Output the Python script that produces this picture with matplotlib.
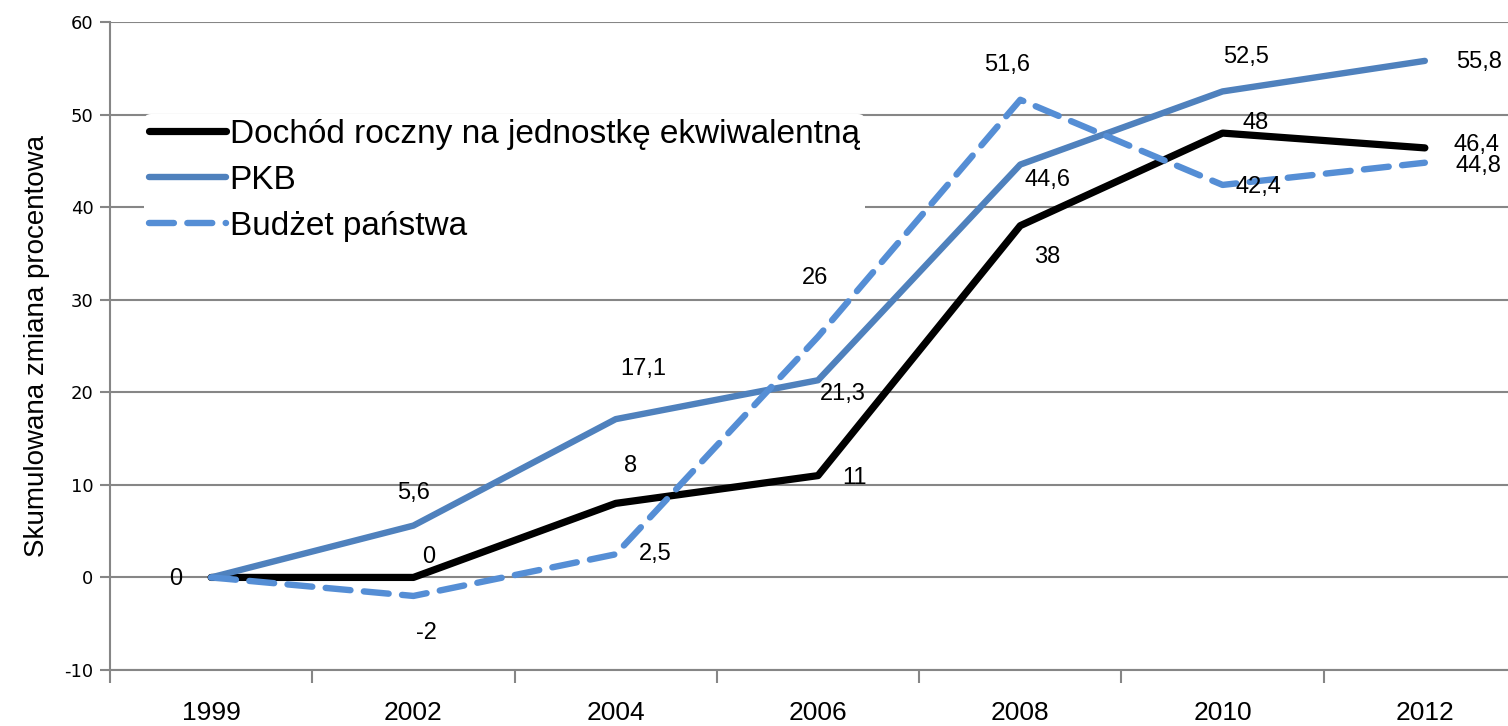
import matplotlib
matplotlib.use("Agg")
import matplotlib.pyplot as plt

years = ["1999", "2002", "2004", "2006", "2008", "2010", "2012"]
dochod = [0, 0, 8, 11, 38, 48, 46.4]
pkb = [0, 5.6, 17.1, 21.3, 44.6, 52.5, 55.8]
budzet = [0, -2, 2.5, 26, 51.6, 42.4, 44.8]
series_names = ["Dochód roczny na jednostkę ekwiwalentną", "PKB", "Budżet państwa"]
y_ticks = [-10, 0, 10, 20, 30, 40, 50, 60]
y_label = "Skumulowana zmiana procentowa"

narrow = "Liberation Sans"

fig = plt.figure(figsize=(15.08, 7.26), dpi=100)
ax = fig.add_axes([110/1508, 1-670/726, 1416/1508, 648/726])

x = list(range(len(years)))
c_black = "#000000"
c_pkb = "#4F81BD"
c_bud = "#558ED5"

ax.plot(x, dochod, color=c_black, lw=5.2, solid_capstyle="round", label=series_names[0], zorder=3)
ax.plot(x, pkb, color=c_pkb, lw=4.6, solid_capstyle="round", label=series_names[1], zorder=3)
ax.plot(x, budzet, color=c_bud, lw=4.6, dashes=(3.9, 2.1), dash_capstyle="round", label=series_names[2], zorder=3)

ax.set_xlim(-0.5, 6.5)
ax.set_ylim(-10, 60)
ax.set_yticks(y_ticks)
ax.set_yticklabels([str(v) for v in y_ticks], fontsize=13, fontfamily="DejaVu Sans")
ax.set_xticks(x)
ax.set_xticklabels(years, fontsize=19, fontfamily=narrow)
ax.tick_params(axis="x", length=0, pad=22)
ax.set_xticks([i - 0.5 for i in range(len(years))], minor=True)
ax.tick_params(axis="x", which="minor", length=9, width=1.5, color="#868686", direction="out")
ax.tick_params(axis="y", length=7, width=1.5, color="#868686", pad=5)
ax.grid(axis="y", color="#868686", lw=1.5, zorder=0)
ax.set_axisbelow(True)
for s in ["top", "right"]:
    ax.spines[s].set_visible(False)
for s in ["left", "bottom"]:
    ax.spines[s].set_color("#868686")
    ax.spines[s].set_linewidth(1.5)
ax.set_ylabel(y_label, fontsize=20, fontfamily=narrow, labelpad=10)

def lab(vals, offs):
    for i, (v, o) in enumerate(zip(vals, offs)):
        if o is None:
            continue
        ax.annotate(f"{v:g}".replace(".", ","), (i, v), xytext=o, textcoords="offset pixels",
                    ha="center", va="center", fontsize=17, fontfamily=narrow, zorder=4)

lab(dochod, [(-35, -2), (15, 20), (15, 37), (37, -2), (27, -31), (33, 10), (52, 3)])
lab(pkb, [None, (0, 33), (28, 50), (25, -14), (27, -15), (23, 34), (54, -1)])
lab(budzet, [None, (13, -37), (40, 0), (-3, 59), (-13, 35), (36, -2), (54, -3)])

leg = ax.legend(loc="upper left", bbox_to_anchor=(34/1416, 1-92/648), frameon=True,
                prop={"family": narrow, "size": 24}, handlelength=2.3, handletextpad=0.12,
                labelspacing=0.45, borderpad=0.15, borderaxespad=0)
leg.get_frame().set_edgecolor("none")
leg.get_frame().set_facecolor("white")
leg.get_frame().set_alpha(1)

fig.savefig("out.png", dpi=100)
